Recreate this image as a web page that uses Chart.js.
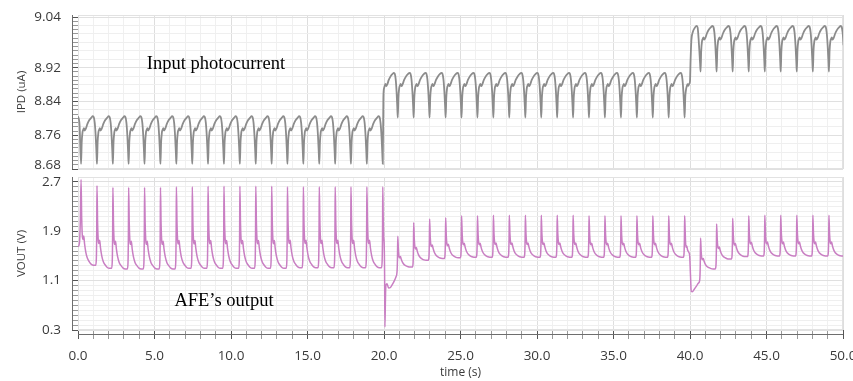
<!DOCTYPE html>
<html>
<head>
<meta charset="utf-8">
<title>IPD and VOUT</title>
<script src="https://cdn.jsdelivr.net/npm/chart.js@4.4.1/dist/chart.umd.min.js"></script>
<style>
    html, body { margin: 0; padding: 0; background: #fff; }
    #wrap { position: relative; width: 853px; height: 381px; overflow: hidden; }
    #ipdChart { position: absolute; left: 0; top: 0; }
    #voutChart { position: absolute; left: 0; top: 170px; }
</style>
</head>
<body>
<div id="wrap">
    <canvas id="ipdChart" width="853" height="180"></canvas>
    <canvas id="voutChart" width="853" height="211"></canvas>
</div>
<script>
// ---- data ----
// one entry per heartbeat (s): the dips of IPD / spikes of VOUT, last one just past the axis
const beatTimes = [
    0.20, 1.24, 2.28, 3.31, 4.35, 5.39, 6.43, 7.47, 8.50, 9.54,
    10.58, 11.62, 12.66, 13.69, 14.73, 15.77, 16.81, 17.84, 18.88, 19.92,
    20.90, 21.94, 22.98, 24.03, 25.07, 26.11, 27.15, 28.19, 29.24, 30.28,
    31.32, 32.36, 33.40, 34.44, 35.49, 36.53, 37.57, 38.61, 39.65,
    40.69, 41.74, 42.79, 43.84, 44.89, 45.93, 46.98, 48.03, 49.08, 50.12
];

// photocurrent steps up at 20 s and 40 s
const stepTimes = [0, 20, 40];
const ipdDipLevel = [8.692, 8.802, 8.911];
const ipdTopLevel = [8.805, 8.908, 9.019];

// VOUT spike height and the level each beat decays to
const voutPeak = [
    2.74, 2.64, 2.61, 2.61, 2.61, 2.61, 2.62, 2.62, 2.63, 2.63,
    2.63, 2.63, 2.63, 2.62, 2.62, 2.62, 2.62, 2.62, 2.62, 2.62,
    1.82, 2.04, 2.10, 2.12, 2.15, 2.15, 2.16, 2.16, 2.16, 2.16,
    2.16, 2.16, 2.15, 2.15, 2.15, 2.15, 2.15, 2.15, 2.15,
    1.79, 2.02, 2.11, 2.15, 2.16, 2.16, 2.16, 2.16, 2.16, 2.16
];
const voutTrough = [
    1.35, 1.30, 1.29, 1.29, 1.29, 1.29, 1.30, 1.30, 1.30, 1.30,
    1.30, 1.30, 1.30, 1.31, 1.31, 1.31, 1.31, 1.31, 1.31, 1.00,
    1.32, 1.43, 1.46, 1.47, 1.48, 1.48, 1.48, 1.48, 1.48, 1.48,
    1.48, 1.48, 1.48, 1.48, 1.48, 1.48, 1.48, 1.48, 1.00,
    1.29, 1.45, 1.49, 1.50, 1.50, 1.50, 1.50, 1.50, 1.50, 1.50
];

// shape of one beat, [fraction of the period, fraction of the swing]
const ipdShape = [
    [0.04, 0.45], [0.09, 0.66], [0.14, 0.72], [0.18, 0.75], [0.23, 0.70],
    [0.30, 0.74], [0.40, 0.84], [0.52, 0.92], [0.64, 0.97], [0.74, 1.00],
    [0.80, 0.98], [0.86, 0.86], [0.92, 0.58], [0.97, 0.22]
];
const voutFall = [
    [0.04, 0.55], [0.08, 0.34], [0.12, 0.30], [0.17, 0.34], [0.22, 0.25],
    [0.30, 0.15], [0.40, 0.08], [0.52, 0.04], [0.65, 0.01], [0.78, 0.00], [0.92, 0.00]
];
const voutRise = [[0.96, 0.08], [0.985, 0.45]];

// start of the trace and the beats where the step happens, [time, value]
const ipdStart = [[0, 8.805], [0.10, 8.785]];
const ipdAt40 = [
    [39.69, 8.850], [39.74, 8.868], [39.79, 8.876], [39.84, 8.881], [39.89, 8.877],
    [39.95, 8.882], [40.00, 8.888], [40.04, 8.940], [40.09, 8.985], [40.18, 9.004],
    [40.30, 9.014], [40.42, 9.019], [40.50, 9.015], [40.56, 8.990], [40.62, 8.955], [40.66, 8.930]
];
const voutStart = [[0, 1.65], [0.09, 1.70], [0.15, 2.05]];
const voutAt20 = [
    [19.95, 2.10], [19.98, 1.80], [20.01, 1.70], [20.04, 1.20], [20.06, 0.35],
    [20.09, 0.75], [20.12, 1.02], [20.20, 1.05], [20.30, 0.98], [20.42, 0.99],
    [20.55, 1.04], [20.68, 1.10], [20.78, 1.16], [20.85, 1.24], [20.88, 1.45]
];
const voutAt40 = [
    [39.68, 1.95], [39.71, 1.72], [39.75, 1.64], [39.79, 1.66], [39.84, 1.60],
    [39.92, 1.56], [39.98, 1.50], [40.03, 1.20], [40.08, 0.93], [40.15, 0.92],
    [40.28, 0.96], [40.42, 1.01], [40.55, 1.06], [40.63, 1.10], [40.67, 1.35]
];

// axis labels
const ipdTickLabels = [8.68, 8.76, 8.84, 8.92, 9.04];
const voutTickLabels = [0.3, 1.1, 1.9, 2.7];
const timeTickLabels = [0, 5, 10, 15, 20, 25, 30, 35, 40, 45, 50];

// ---- helpers ----
const sans = "'Open Sans', 'Noto Sans', sans-serif";

function stepTicks(from, to, step) {
    const out = [];
    const n = Math.round((to - from) / step);
    for (let k = 0; k <= n; k++) out.push(+(from + k * step).toFixed(4));
    return out;
}

function isIn(list, v) {
    return list.some(l => Math.abs(l - v) < 1e-6);
}

function segmentOf(t) {
    let s = 0;
    stepTimes.forEach((st, k) => { if (t >= st) s = k; });
    return s;
}

function findSpecial(lists, t0, t1) {
    return lists.find(list => list[0][0] > t0 && list[0][0] < t1);
}

function buildIpd() {
    const pts = ipdStart.map(([x, y]) => ({ x, y }));
    for (let i = 0; i < beatTimes.length - 1; i++) {
        const t0 = beatTimes[i], t1 = beatTimes[i + 1];
        pts.push({ x: t0, y: ipdDipLevel[segmentOf(t0)] });
        const special = findSpecial([ipdAt40], t0, t1);
        if (special) {
            special.forEach(([x, y]) => pts.push({ x, y }));
            continue;
        }
        const s = segmentOf((t0 + t1) / 2);
        const top = ipdTopLevel[s];
        const swing = top - ipdDipLevel[s];
        ipdShape.forEach(([ph, f]) => {
            pts.push({ x: t0 + ph * (t1 - t0), y: top - (1 - f) * swing });
        });
    }
    const last = beatTimes[beatTimes.length - 1];
    pts.push({ x: last, y: ipdDipLevel[segmentOf(last)] });
    return pts;
}

function buildVout() {
    const pts = voutStart.map(([x, y]) => ({ x, y }));
    for (let i = 0; i < beatTimes.length - 1; i++) {
        const t0 = beatTimes[i], t1 = beatTimes[i + 1];
        pts.push({ x: t0, y: voutPeak[i] });
        const special = findSpecial([voutAt20, voutAt40], t0, t1);
        if (special) {
            special.forEach(([x, y]) => pts.push({ x, y }));
            continue;
        }
        const lo = voutTrough[i];
        voutFall.forEach(([ph, f]) => {
            pts.push({ x: t0 + ph * (t1 - t0), y: lo + f * (voutPeak[i] - lo) });
        });
        voutRise.forEach(([ph, f]) => {
            pts.push({ x: t0 + ph * (t1 - t0), y: lo + f * (voutPeak[i + 1] - lo) });
        });
    }
    const n = beatTimes.length - 1;
    pts.push({ x: beatTimes[n], y: voutPeak[n] });
    return pts;
}

// axis line set a few pixels off the plot, light frame, and the two captions
const panelDecor = {
    id: 'panelDecor',
    beforeDatasetsDraw(chart, args, opts) {
        const { ctx, chartArea: a } = chart;
        ctx.save();
        ctx.strokeStyle = '#e2e2e2';
        ctx.lineWidth = 1;
        ctx.strokeRect(a.left + 0.5, a.top + 0.5, a.right - a.left - 1, a.bottom - a.top - 1);
        ctx.strokeStyle = '#6e6e6e';
        ctx.beginPath();
        ctx.moveTo(a.left - 5.5, a.top);
        ctx.lineTo(a.left - 5.5, a.bottom);
        if (opts.xLine) {
            ctx.moveTo(a.left, a.bottom + 4.5);
            ctx.lineTo(a.right, a.bottom + 4.5);
        }
        ctx.stroke();
        ctx.restore();
    },
    afterDraw(chart, args, opts) {
        if (!opts.caption) return;
        const { ctx, scales } = chart;
        const c = opts.caption;
        ctx.save();
        ctx.font = "18.5px 'Liberation Serif', 'Times New Roman', serif";
        ctx.fillStyle = '#000';
        ctx.textBaseline = 'middle';
        ctx.fillText(c.text, scales.x.getPixelForValue(c.x), scales.y.getPixelForValue(c.y));
        ctx.restore();
    }
};

const ipdTicks = stepTicks(8.68, 9.04, 0.01);
const voutTicks = stepTicks(0.3, 2.7, 0.08);
const timeTicks = stepTicks(0, 50, 1);

function timeAxis(showLabels) {
    return {
        type: 'linear',
        min: 0,
        max: 50,
        afterBuildTicks: axis => { axis.ticks = timeTicks.map(value => ({ value })); },
        ticks: {
            display: showLabels,
            autoSkip: false,
            maxRotation: 0,
            padding: 9,
            color: '#3a3a3a',
            font: { family: sans, size: 13.5 },
            callback: value => isIn(timeTickLabels, value) ? value.toFixed(1) : ''
        },
        grid: {
            drawTicks: showLabels,
            tickLength: 9,
            color: ctx => isIn(timeTickLabels, ctx.tick.value) ? '#dedede' : '#f0f0f0',
            tickColor: ctx => isIn(timeTickLabels, ctx.tick.value) ? '#555' : '#999'
        },
        border: { display: false },
        title: {
            display: showLabels,
            text: 'time (s)',
            color: '#3a3a3a',
            font: { family: sans, size: 12 },
            padding: { top: 0, bottom: 1 }
        },
        afterFit: axis => {
            axis.height = showLabels ? 51 : 0;
            axis.paddingLeft = 0;
            axis.paddingRight = 0;
        }
    };
}

function valueAxis(min, max, ticks, labels, digits, title, lowLabel) {
    const labelled = v => isIn(labels, v);
    const isLow = v => lowLabel !== undefined && Math.abs(v - lowLabel) < 1e-6;
    return {
        min: min,
        max: max,
        afterBuildTicks: axis => { axis.ticks = ticks.map(value => ({ value })); },
        ticks: {
            autoSkip: false,
            padding: 11,
            color: '#3a3a3a',
            font: ctx => ({
                family: sans,
                size: 13.5,
                lineHeight: (ctx.tick && isLow(ctx.tick.value)) ? 0.6 : 1.2
            }),
            callback: value => {
                if (!labelled(value)) return '';
                const txt = value.toFixed(digits);
                return isLow(value) ? [txt, ''] : txt;
            }
        },
        grid: {
            tickLength: 6,
            color: ctx => {
                const v = ctx.tick.value;
                if (labelled(v)) return '#e0e0e0';
                if (digits === 2 && Math.round((v - min) / 0.01) % 2 === 1) return 'rgba(0,0,0,0)';
                return '#efefef';
            },
            tickColor: ctx => labelled(ctx.tick.value) ? '#555' : '#999'
        },
        border: { display: false },
        title: {
            display: true,
            text: title,
            color: '#3a3a3a',
            font: { family: sans, size: 11.5 },
            padding: { top: 15, bottom: 0 }
        },
        afterFit: axis => {
            axis.width = 78;
            axis.paddingTop = 0;
            axis.paddingBottom = 0;
        }
    };
}

const ipdMax = 9.045;
const voutMax = 2.78;

new Chart(document.getElementById('ipdChart'), {
    type: 'line',
    data: {
        datasets: [{
            data: buildIpd(),
            borderColor: '#8c8c8c',
            borderWidth: 1.8,
            pointRadius: 0,
            cubicInterpolationMode: 'monotone'
        }]
    },
    options: {
        responsive: false,
        animation: false,
        events: [],
        layout: { padding: { left: 0, right: 10, top: 15, bottom: 11 } },
        plugins: {
            legend: { display: false },
            tooltip: { enabled: false },
            panelDecor: { xLine: false, caption: { text: 'Input photocurrent', x: 4.5, y: 8.929 } }
        },
        scales: {
            x: timeAxis(false),
            y: valueAxis(8.68, ipdMax, ipdTicks, ipdTickLabels, 2, 'IPD (uA)', 8.68)
        }
    },
    plugins: [panelDecor]
});

new Chart(document.getElementById('voutChart'), {
    type: 'line',
    data: {
        datasets: [{
            data: buildVout(),
            borderColor: '#c97fc3',
            borderWidth: 1.5,
            pointRadius: 0,
            cubicInterpolationMode: 'monotone'
        }]
    },
    options: {
        responsive: false,
        animation: false,
        events: [],
        layout: { padding: { left: 0, right: 10, top: 7, bottom: 0 } },
        plugins: {
            legend: { display: false },
            tooltip: { enabled: false },
            panelDecor: { xLine: true, caption: { text: 'AFE\u2019s output', x: 6.3, y: 0.77 } }
        },
        scales: {
            x: timeAxis(true),
            y: valueAxis(0.3, voutMax, voutTicks, voutTickLabels, 1, 'VOUT (V)')
        }
    },
    plugins: [panelDecor]
});
</script>
</body>
</html>
